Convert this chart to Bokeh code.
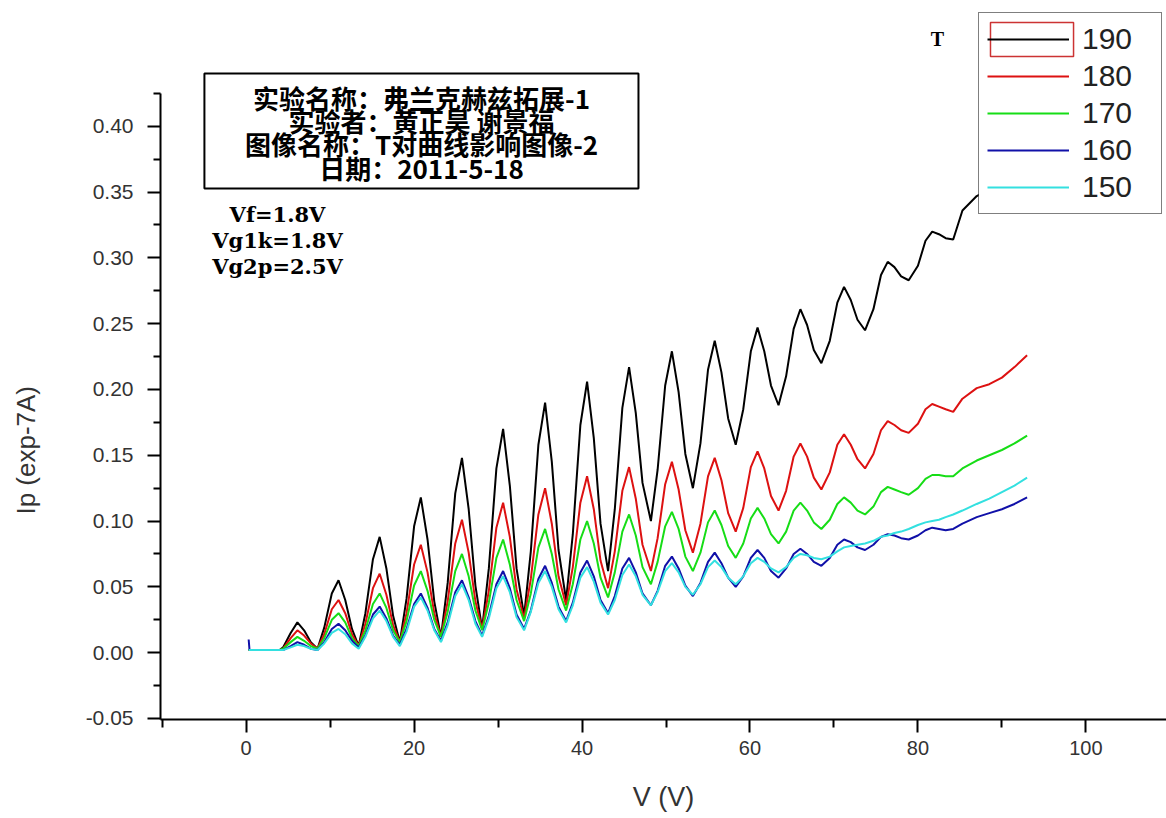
from bokeh.plotting import figure
from bokeh.models import (Range1d, FixedTicker, PrintfTickFormatter, Legend, LegendItem,
                          BoxAnnotation, Label)
from bokeh.embed import file_html
from bokeh.resources import INLINE

# ---------------- data ----------------
V = [0.3, 0.4, 1.0, 2.0, 3.0, 4.0, 4.4, 5.3, 6.1, 6.9, 7.7, 8.5,
     9.3, 10.2, 11.0, 11.8, 12.6, 13.4,
     14.2, 15.1, 15.9, 16.7, 17.5, 18.3,
     19.1, 20.0, 20.8, 21.6, 22.4, 23.2,
     24.0, 24.9, 25.7, 26.5, 27.3, 28.1,
     28.9, 29.8, 30.6, 31.4, 32.2, 33.1,
     33.9, 34.8, 35.6, 36.4, 37.2, 38.1,
     38.9, 39.8, 40.6, 41.4, 42.2, 43.1,
     43.9, 44.8, 45.6, 46.4, 47.2, 48.2,
     49.0, 49.9, 50.7, 51.5, 52.3, 53.2,
     54.1, 55.0, 55.8, 56.6, 57.4, 58.3,
     59.2, 60.1, 60.9, 61.7, 62.5, 63.4,
     64.3, 65.2, 66.0, 66.8, 67.6, 68.5,
     69.5, 70.4, 71.2, 72.0, 72.8, 73.7,
     74.7, 75.6, 76.4, 77.2, 78.0, 78.9,
     80.0, 80.9, 81.7, 82.5, 83.3, 84.2,
     85.3, 87.0, 88.5, 90.0, 91.5, 93.0]

I_190 = [0.002, 0.002, 0.002, 0.002, 0.002, 0.002, 0.004, 0.015, 0.023, 0.017, 0.008, 0.003,
         0.019, 0.045, 0.055, 0.040, 0.018, 0.005,
         0.030, 0.071, 0.088, 0.064, 0.028, 0.008,
         0.041, 0.096, 0.118, 0.086, 0.039, 0.012,
         0.053, 0.121, 0.148, 0.109, 0.051, 0.018,
         0.064, 0.140, 0.170, 0.127, 0.064, 0.028,
         0.077, 0.158, 0.190, 0.145, 0.078, 0.040,
         0.090, 0.173, 0.206, 0.163, 0.098, 0.062,
         0.109, 0.186, 0.217, 0.182, 0.129, 0.100,
         0.139, 0.203, 0.229, 0.198, 0.151, 0.125,
         0.159, 0.215, 0.237, 0.213, 0.178, 0.158,
         0.185, 0.229, 0.247, 0.229, 0.203, 0.188,
         0.210, 0.246, 0.261, 0.249, 0.230, 0.220,
         0.237, 0.266, 0.278, 0.268, 0.253, 0.245,
         0.261, 0.287, 0.297, 0.293, 0.286, 0.283,
         0.294, 0.313, 0.320, 0.318, 0.315, 0.314,
         0.336, 0.347, 0.352, 0.365, 0.375, 0.385]

I_180 = [0.002, 0.002, 0.002, 0.002, 0.002, 0.002, 0.003, 0.011, 0.017, 0.013, 0.007, 0.003,
         0.014, 0.033, 0.040, 0.030, 0.014, 0.005,
         0.022, 0.049, 0.060, 0.044, 0.021, 0.008,
         0.030, 0.067, 0.082, 0.061, 0.030, 0.012,
         0.039, 0.083, 0.101, 0.076, 0.039, 0.018,
         0.047, 0.095, 0.114, 0.088, 0.048, 0.026,
         0.056, 0.105, 0.125, 0.098, 0.058, 0.036,
         0.065, 0.114, 0.134, 0.109, 0.070, 0.049,
         0.077, 0.123, 0.141, 0.117, 0.082, 0.062,
         0.087, 0.128, 0.145, 0.124, 0.093, 0.076,
         0.098, 0.134, 0.148, 0.131, 0.106, 0.092,
         0.110, 0.141, 0.153, 0.140, 0.119, 0.108,
         0.123, 0.149, 0.159, 0.149, 0.133, 0.124,
         0.137, 0.158, 0.166, 0.158, 0.147, 0.140,
         0.151, 0.169, 0.176, 0.173, 0.169, 0.167,
         0.174, 0.185, 0.189, 0.187, 0.185, 0.183,
         0.193, 0.201, 0.204, 0.209, 0.217, 0.226]

I_170 = [0.002, 0.002, 0.002, 0.002, 0.002, 0.002, 0.003, 0.008, 0.012, 0.009, 0.005, 0.003,
         0.011, 0.025, 0.030, 0.023, 0.011, 0.005,
         0.017, 0.037, 0.045, 0.034, 0.017, 0.008,
         0.024, 0.051, 0.062, 0.047, 0.025, 0.012,
         0.031, 0.062, 0.075, 0.058, 0.032, 0.017,
         0.038, 0.072, 0.086, 0.067, 0.040, 0.024,
         0.045, 0.080, 0.094, 0.075, 0.048, 0.032,
         0.052, 0.086, 0.100, 0.083, 0.057, 0.042,
         0.061, 0.092, 0.105, 0.089, 0.065, 0.052,
         0.069, 0.096, 0.107, 0.094, 0.073, 0.062,
         0.076, 0.099, 0.108, 0.097, 0.081, 0.072,
         0.083, 0.102, 0.110, 0.102, 0.090, 0.083,
         0.092, 0.108, 0.114, 0.108, 0.099, 0.094,
         0.101, 0.113, 0.118, 0.114, 0.108, 0.105,
         0.111, 0.122, 0.126, 0.124, 0.122, 0.120,
         0.125, 0.132, 0.135, 0.135, 0.134, 0.134,
         0.140, 0.146, 0.150, 0.154, 0.159, 0.165]

I_160 = [0.010, 0.002, 0.002, 0.002, 0.002, 0.002, 0.002, 0.005, 0.008, 0.006, 0.003, 0.002,
         0.008, 0.018, 0.022, 0.017, 0.009, 0.004,
         0.013, 0.029, 0.035, 0.026, 0.013, 0.006,
         0.018, 0.037, 0.045, 0.034, 0.018, 0.009,
         0.023, 0.046, 0.055, 0.042, 0.024, 0.013,
         0.028, 0.052, 0.062, 0.049, 0.029, 0.018,
         0.032, 0.056, 0.066, 0.053, 0.035, 0.024,
         0.038, 0.061, 0.070, 0.058, 0.040, 0.030,
         0.043, 0.064, 0.072, 0.061, 0.045, 0.036,
         0.047, 0.066, 0.073, 0.064, 0.051, 0.043,
         0.053, 0.069, 0.076, 0.068, 0.057, 0.050,
         0.058, 0.072, 0.078, 0.072, 0.062, 0.057,
         0.064, 0.075, 0.079, 0.075, 0.069, 0.066,
         0.072, 0.082, 0.086, 0.084, 0.080, 0.078,
         0.082, 0.088, 0.090, 0.089, 0.087, 0.086,
         0.089, 0.093, 0.095, 0.094, 0.093, 0.094,
         0.098, 0.103, 0.106, 0.109, 0.113, 0.118]

I_150 = [0.002, 0.002, 0.002, 0.002, 0.002, 0.002, 0.002, 0.004, 0.006, 0.005, 0.003, 0.002,
         0.007, 0.015, 0.018, 0.014, 0.007, 0.003,
         0.012, 0.026, 0.032, 0.024, 0.012, 0.005,
         0.016, 0.035, 0.042, 0.032, 0.017, 0.008,
         0.021, 0.043, 0.052, 0.040, 0.022, 0.012,
         0.026, 0.049, 0.058, 0.046, 0.027, 0.017,
         0.031, 0.053, 0.062, 0.050, 0.033, 0.023,
         0.036, 0.057, 0.065, 0.054, 0.038, 0.029,
         0.040, 0.059, 0.067, 0.058, 0.044, 0.036,
         0.046, 0.062, 0.068, 0.061, 0.050, 0.044,
         0.052, 0.065, 0.070, 0.065, 0.057, 0.052,
         0.058, 0.068, 0.072, 0.069, 0.064, 0.061,
         0.065, 0.072, 0.075, 0.074, 0.072, 0.071,
         0.073, 0.077, 0.080, 0.081, 0.082, 0.083,
         0.085, 0.088, 0.089, 0.091, 0.092, 0.094,
         0.097, 0.099, 0.100, 0.101, 0.103, 0.105,
         0.108, 0.113, 0.117, 0.122, 0.127, 0.133]

series_names = ["190", "180", "170", "160", "150"]
series_values = [I_190, I_180, I_170, I_160, I_150]
series_colors = ["#000000", "#dd1111", "#16dd16", "#1010a8", "#33e0e0"]

x_ticks = [0, 20, 40, 60, 80, 100]
x_minor = [-10, 10, 30, 50, 70, 90, 110]
y_ticks = [-0.05, 0.00, 0.05, 0.10, 0.15, 0.20, 0.25, 0.30, 0.35, 0.40]
y_minor = [-0.025, 0.025, 0.075, 0.125, 0.175, 0.225, 0.275, 0.325, 0.375, 0.425]

title_lines = ["实验名称：弗兰克赫兹拓展-1", "实验者：黄正昊 谢景福",
               "图像名称：T对曲线影响图像-2", "日期：2011-5-18"]
param_lines = ["Vf=1.8V", "Vg1k=1.8V", "Vg2p=2.5V"]
x_title = "V (V)"
y_title = "Ip (exp-7A)"

# ---------------- figure ----------------
p = figure(width=1166, height=818, output_backend="svg", toolbar_location=None,
           x_range=Range1d(-10.2, 109.6), y_range=Range1d(-0.0508, 0.4956),
           min_border_left=160, min_border_right=0, min_border_top=0, min_border_bottom=99,
           frame_width=1006, frame_height=719)
p.outline_line_color = None
p.grid.visible = False
p.background_fill_color = "white"
p.border_fill_color = "white"

renderers = []
for name, vals, col in zip(series_names, series_values, series_colors):
    r = p.line(V, vals, line_color=col, line_width=2)
    renderers.append((name, r))

# white panel behind the legend (hides the curve there), and the red selection frame
p.quad(left=[87.23], right=[108.9], top=[0.4850], bottom=[0.3330],
       fill_color="white", fill_alpha=1.0, line_alpha=0)
p.quad(left=[88.64], right=[98.53], top=[0.4789], bottom=[0.4530],
       fill_alpha=0, line_color="#cc3333", line_width=1.5)

# axes
xa = p.xaxis[0]
xa.bounds = (-10.2, 110)
xa.ticker = FixedTicker(ticks=x_ticks, minor_ticks=x_minor)
xa.axis_line_width = 2
xa.major_tick_line_width = 2
xa.minor_tick_line_width = 2
xa.major_tick_out = 13
xa.major_tick_in = 0
xa.minor_tick_out = 8
xa.minor_tick_in = 0
xa.major_label_text_font = "Liberation Sans"
xa.major_label_text_font_size = "20px"
xa.major_label_text_color = "#333333"
xa.major_label_standoff = 8
xa.axis_label = x_title
xa.axis_label_text_font = "Liberation Sans"
xa.axis_label_text_font_size = "27px"
xa.axis_label_text_font_style = "normal"
xa.axis_label_text_color = "#333333"
xa.axis_label_standoff = 24

ya = p.yaxis[0]
ya.bounds = (-0.0508, 0.425)
ya.ticker = FixedTicker(ticks=y_ticks, minor_ticks=y_minor)
ya.formatter = PrintfTickFormatter(format="%.2f")
ya.axis_line_width = 2
ya.major_tick_line_width = 2
ya.minor_tick_line_width = 2
ya.major_tick_out = 13
ya.major_tick_in = 0
ya.minor_tick_out = 7
ya.minor_tick_in = 0
ya.major_label_text_font = "Liberation Sans"
ya.major_label_text_font_size = "21px"
ya.major_label_text_color = "#333333"
ya.major_label_standoff = 14
# trailing no-break spaces shift the visible title lower, as in the original
ya.axis_label = y_title + "\u00a0" * 25
ya.axis_label_text_font = "Liberation Sans"
ya.axis_label_text_font_size = "26px"
ya.axis_label_text_font_style = "normal"
ya.axis_label_text_color = "#333333"
ya.axis_label_standoff = 42

# title box
p.add_layout(BoxAnnotation(left=-4.97, right=46.72, top=0.4401, bottom=0.3527,
                           fill_color="white", fill_alpha=1.0, line_color="black",
                           line_alpha=1.0, line_width=2))
title_y = [0.4219, 0.4044, 0.3869, 0.3687]
for t, yy in zip(title_lines, title_y):
    p.add_layout(Label(x=20.88, y=yy, text=t, text_font="Noto Sans CJK SC",
                       text_font_style="bold", text_font_size="26px", text_color="black",
                       text_align="center", text_baseline="middle"))

param_y = [0.3330, 0.3132, 0.2934]
for t, yy in zip(param_lines, param_y):
    p.add_layout(Label(x=3.73, y=yy, text=t, text_font="DejaVu Serif",
                       text_font_style="bold", text_font_size="21px", text_color="black",
                       text_align="center", text_baseline="middle"))

p.add_layout(Label(x=82.33, y=0.4667, text="T", text_font="Liberation Serif",
                   text_font_style="bold", text_font_size="20px", text_color="black",
                   text_align="center", text_baseline="middle"))

# legend (transparent body; white panel drawn underneath)
legend = Legend(items=[LegendItem(label=n, renderers=[r]) for n, r in renderers],
                location=(818, 505), orientation="vertical",
                border_line_color="black", border_line_width=1,
                background_fill_alpha=0.0,
                label_text_font="Liberation Sans", label_text_font_size="30px",
                label_text_color="#222222",
                glyph_width=82, glyph_height=36, label_height=36, label_width=71, spacing=1,
                padding=8, margin=0, label_standoff=13)
p.add_layout(legend)

open("out.html", "w").write(file_html(p, INLINE))
